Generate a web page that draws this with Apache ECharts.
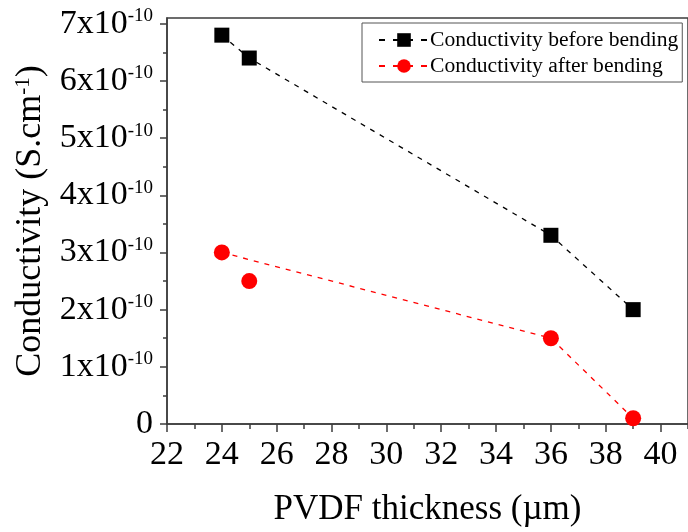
<!DOCTYPE html>
<html>
<head>
<meta charset="utf-8">
<script src="https://cdn.jsdelivr.net/npm/echarts@6/dist/echarts.min.js"></script>
<style>
html,body{margin:0;padding:0;background:#fff;}
#chart{width:688px;height:532px;}
</style>
</head>
<body>
<div id="chart"></div>
<script>
// ---- data ----
var thickness = [24, 25, 36, 39];                       // PVDF thickness (µm)
var beforeBending = [6.8e-10, 6.4e-10, 3.3e-10, 2.0e-10]; // S.cm^-1
var afterBending = [3.0e-10, 2.5e-10, 1.5e-10, 0.1e-10];  // S.cm^-1
var afterLineIdx = [0, 2, 3];                           // points joined by the red dashed line
var xTicks = [22, 24, 26, 28, 30, 32, 34, 36, 38, 40];
var xMinorTicks = [23, 25, 27, 29, 31, 33, 35, 37, 39, 41];
var yTicks = [0, 1e-10, 2e-10, 3e-10, 4e-10, 5e-10, 6e-10, 7e-10];
var yMinorTicks = [0.5e-10, 1.5e-10, 2.5e-10, 3.5e-10, 4.5e-10, 5.5e-10, 6.5e-10];
var seriesNames = ['Conductivity before bending', 'Conductivity after bending'];

var FONT = '"Liberation Serif", "Times New Roman", serif';
var AX = '#3c3c3c';

var beforeData = thickness.map(function (x, i) { return [x, beforeBending[i]]; });
var afterLineData = afterLineIdx.map(function (i) { return [thickness[i], afterBending[i]]; });
var afterOtherData = thickness.map(function (x, i) { return [x, afterBending[i]]; })
  .filter(function (d, i) { return afterLineIdx.indexOf(i) < 0; });

var chart = echarts.init(document.getElementById('chart'), null, {renderer: 'canvas'});

chart.setOption({
  animation: false,
  backgroundColor: '#fff',
  grid: {
    left: 167, top: 18, width: 524.6, height: 406,
    show: true, borderColor: AX, borderWidth: 1.5, backgroundColor: 'transparent'
  },
  legend: {
    data: seriesNames,
    orient: 'vertical',
    left: 362, top: 23,
    padding: [6, 4, 5, 16],
    itemGap: 4,
    itemWidth: 50, itemHeight: 17,
    borderColor: '#555', borderWidth: 1,
    backgroundColor: '#fff',
    lineStyle: {type: [6, 8]},
    textStyle: {fontFamily: FONT, fontSize: 21.6, color: '#000', padding: [0, 0, 0, -4]}
  },
  xAxis: [{
    type: 'value', min: 22, max: 41, interval: 1,
    axisLine: {show: true, lineStyle: {color: AX, width: 1.5}}, splitLine: {show: false},
    axisTick: {show: true, inside: false, length: 8, customValues: xTicks, lineStyle: {color: AX, width: 1.5}},
    axisLabel: {customValues: xTicks, margin: 14, fontFamily: FONT, fontSize: 34, color: '#000'},
    name: 'PVDF thickness (µm)', nameLocation: 'middle', nameGap: 68,
    nameTextStyle: {fontFamily: FONT, fontSize: 35, color: '#000'}
  }, {
    type: 'value', min: 22, max: 41, position: 'bottom', gridIndex: 0,
    axisLine: {show: false}, splitLine: {show: false}, axisLabel: {show: false},
    axisTick: {show: true, length: 5, customValues: xMinorTicks, lineStyle: {color: AX, width: 1.5}}
  }],
  yAxis: [{
    type: 'value', min: 0, max: 7.1e-10, interval: 1e-10,
    axisLine: {show: true, lineStyle: {color: AX, width: 1.5}}, splitLine: {show: false},
    axisTick: {show: true, length: 7, customValues: yTicks, lineStyle: {color: AX, width: 1.5}},
    axisLabel: {
      customValues: yTicks, margin: 14,
      formatter: function (v) {
        var n = Math.round(v / 1e-10);
        if (n === 0) return '{m|0}';
        return '{m|' + n + 'x10}{s|-10}';
      },
      rich: {
        m: {fontFamily: FONT, fontSize: 34, color: '#000', verticalAlign: 'bottom'},
        s: {fontFamily: FONT, fontSize: 19, color: '#000', verticalAlign: 'top'}
      }
    },
    name: 'Conductivity (S.cm{s|-1})', nameLocation: 'middle', nameGap: 117,
    nameTextStyle: {
      fontFamily: FONT, fontSize: 36, color: '#000',
      rich: {s: {fontFamily: FONT, fontSize: 21, color: '#000', verticalAlign: 'top'}}
    }
  }, {
    type: 'value', min: 0, max: 7.1e-10, position: 'left', gridIndex: 0,
    axisLine: {show: false}, splitLine: {show: false}, axisLabel: {show: false},
    axisTick: {show: true, length: 4, customValues: yMinorTicks, lineStyle: {color: AX, width: 1.5}}
  }],
  series: [{
    name: seriesNames[0], type: 'line', data: beforeData,
    symbol: 'rect', symbolSize: 15,
    itemStyle: {color: '#000'},
    lineStyle: {color: '#000', width: 1.3, type: [5, 6]},
    z: 3
  }, {
    name: seriesNames[1], type: 'line', data: afterLineData,
    symbol: 'circle', symbolSize: 16,
    itemStyle: {color: '#ff0000'},
    lineStyle: {color: '#ff0000', width: 1.3, type: [5, 6]},
    z: 3
  }, {
    name: seriesNames[1], type: 'scatter', data: afterOtherData,
    symbol: 'circle', symbolSize: 16,
    itemStyle: {color: '#ff0000', opacity: 1},
    z: 3
  }]
});
</script>
</body>
</html>
